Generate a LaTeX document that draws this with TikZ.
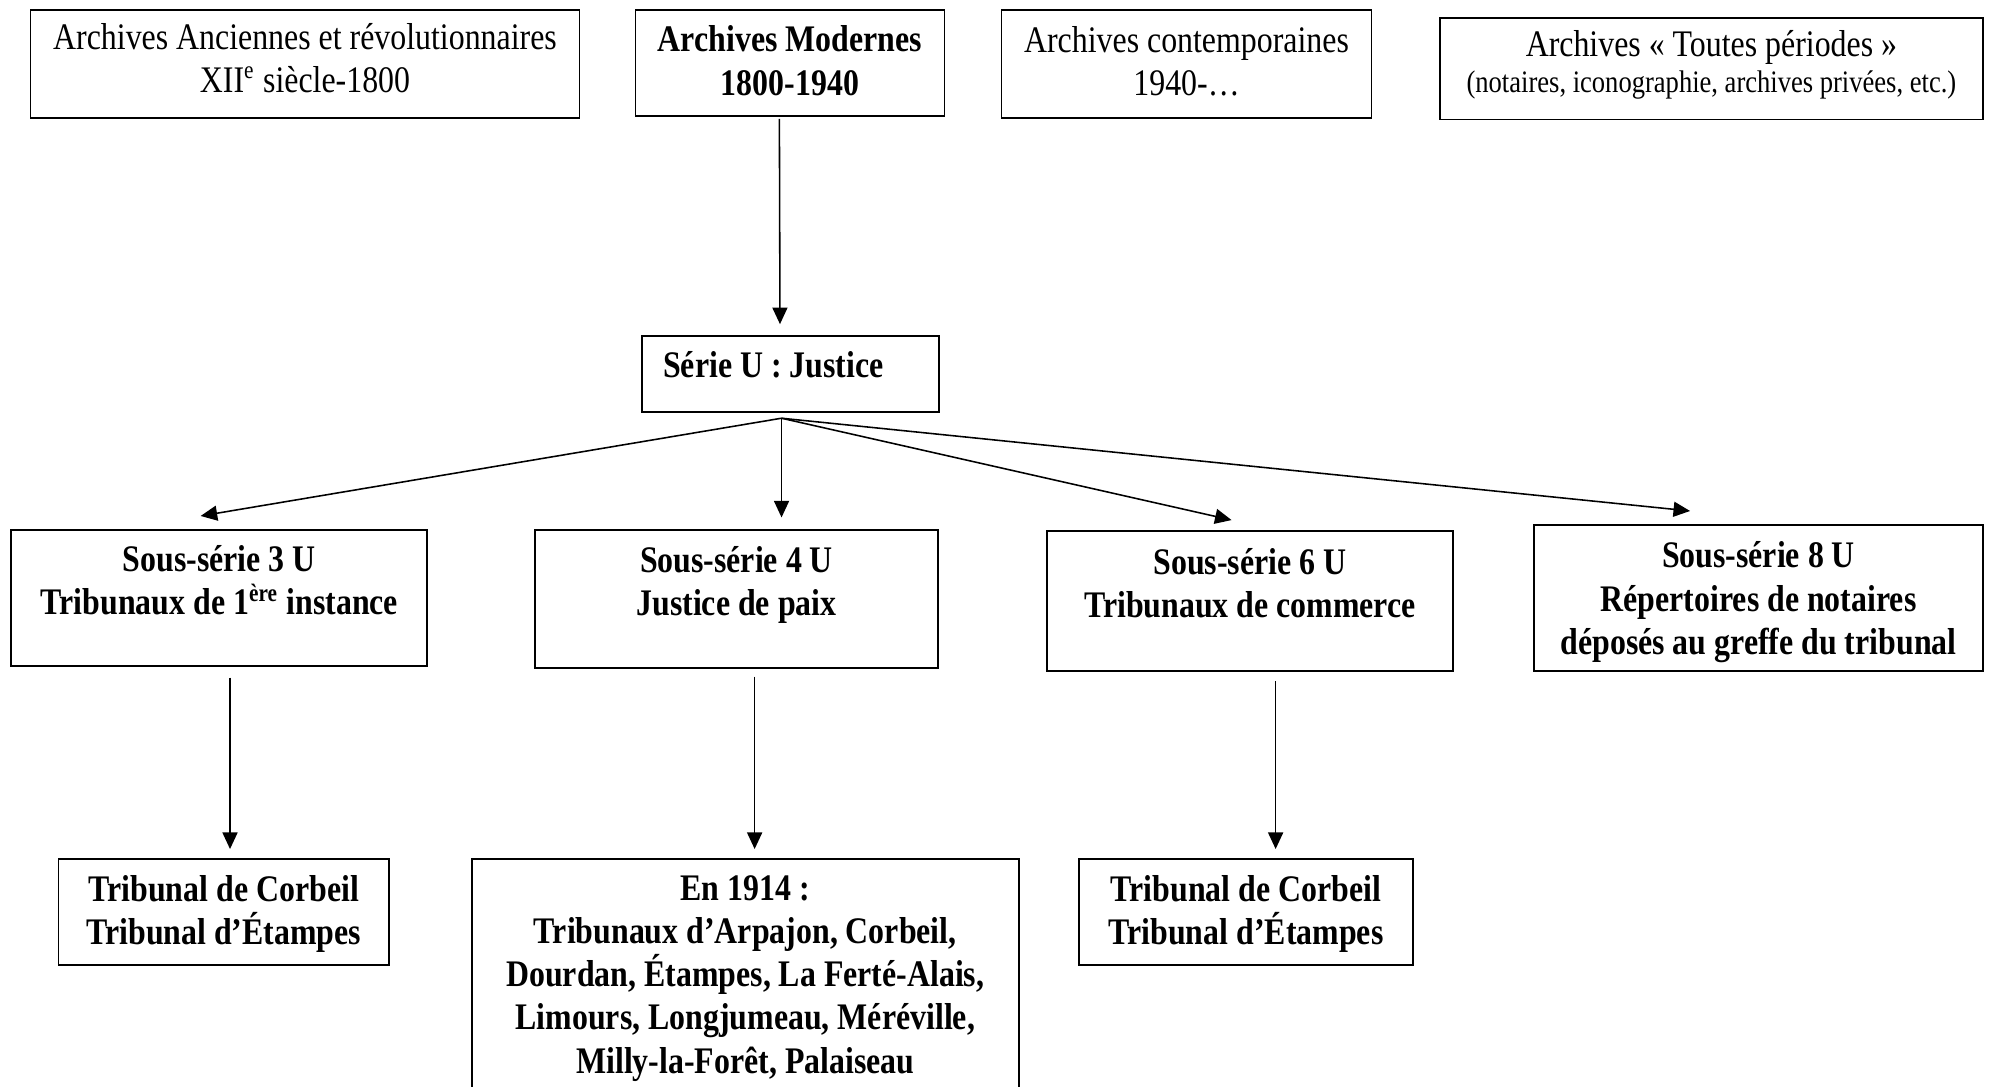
\documentclass[tikz,border=0pt]{standalone}
\usepackage{fontspec}
\setmainfont[FakeStretch=0.85]{Liberation Serif}
\usetikzlibrary{arrows.meta,positioning}

% struts to move text inside fixed-size boxes
\newcommand\toppad[1]{\rule{0pt}{#1}}
\newcommand\botpad[1]{\rule[-#1]{0pt}{#1}}

\begin{document}
\begin{tikzpicture}[x=0.32pt,y=-0.32pt]
	\tikzset{
		box/.style={draw,line width=0.6pt,align=center,inner sep=2pt,
			font=\fontsize{12}{13.8}\selectfont},
		bbox/.style={box,font=\fontsize{12}{13.8}\selectfont\bfseries},
		arr/.style={-{Triangle[length=5.3pt,width=4.8pt]},line width=0.5pt}
	}
	\useasboundingbox (0,0) rectangle (1993,1086);

	%% Periods
	\node[box,minimum width=175.7pt,minimum height=34.6pt] (anc) at (305,64) {Archives Anciennes et révolutionnaires\\XII\textsuperscript{e} siècle-1800\botpad{4pt}};
	\node[bbox,minimum width=98.9pt,minimum height=33.8pt] (mod) at (790,63) {Archives Modernes\\1800-1940\botpad{1.6pt}};
	\node[box,minimum width=118.4pt,minimum height=34.6pt] (cont) at (1186.5,64) {Archives contemporaines\\1940-…\botpad{2pt}};
	\node[box,minimum width=173.8pt,minimum height=32.5pt] (tout) at (1711.4,68.7) {Archives « Toutes périodes »\\[-2.4pt]{\fontsize{10}{11.5}\selectfont (notaires, iconographie, archives privées, etc.)}\botpad{4.6pt}};

	%% Serie U
	\node[bbox,align=flush left,text width=81.5pt,inner xsep=6.7pt,minimum height=24.5pt,text height=9pt,text depth=7pt] (ju) at (790.6,374) {Série U : Justice};

	%% Sous-series
	\node[bbox,minimum width=133.1pt,minimum height=43.5pt] (s3) at (219.4,598) {Sous-série 3 U\\Tribunaux de 1\textsuperscript{ère} instance\botpad{11.4pt}};
	\node[bbox,minimum width=129pt,minimum height=44.3pt] (s4) at (736.5,599) {Sous-série 4 U\\Justice de paix\botpad{11.4pt}};
	\node[bbox,minimum width=130pt,minimum height=44.8pt] (s6) at (1250,601) {Sous-série 6 U\\Tribunaux de commerce\botpad{11.4pt}};
	\node[bbox,minimum width=143.7pt,minimum height=46.7pt] (s8) at (1758.5,598) {\toppad{11pt}Sous-série 8 U\\Répertoires de notaires\\déposés au greffe du tribunal};

	%% Tribunaux
	\node[bbox,minimum width=105.8pt,minimum height=33.9pt] (t3) at (223.8,912) {\toppad{9.5pt}Tribunal de Corbeil\\Tribunal d’Étampes};
	\node[bbox,minimum width=175.2pt,minimum height=73.9pt] (t4) at (745.3,974.5) {\toppad{10.5pt}En 1914 :\\Tribunaux d’Arpajon, Corbeil,\\Dourdan, Étampes, La Ferté-Alais,\\Limours, Longjumeau, Méréville,\\Milly-la-Forêt, Palaiseau};
	\node[bbox,minimum width=106.9pt,minimum height=33.9pt] (t6) at (1246,912) {\toppad{9.5pt}Tribunal de Corbeil\\Tribunal d’Étampes};

	\coordinate (fan) at ([xshift=-2.9pt,yshift=-1.6pt]ju.south);
	\coordinate (d3) at ([xshift=3.4pt,yshift=-3.4pt]s3.south);
	\coordinate (d4) at ([xshift=5.8pt,yshift=-2.4pt]s4.south);
	\coordinate (d6) at ([xshift=8.2pt,yshift=-2.9pt]s6.south);

	\draw[arr] ([xshift=-3.4pt,yshift=-0.7pt]mod.south) -- ([xshift=-3.4pt,yshift=3.4pt]ju.north);
	\path[arr]
		(fan) edge ([xshift=-6pt,yshift=4.2pt]s3.north)
		(fan) edge[shorten >=3.65pt] (fan |- s4.north)
		(fan) edge ([xshift=-5.9pt,yshift=3.2pt]s6.north)
		(fan) edge ([xshift=-21.9pt,yshift=4.2pt]s8.north)
		(d3) edge[shorten >=2.9pt] (d3 |- t3.north)
		(d4) edge[shorten >=2.9pt] (d4 |- t4.north)
		(d6) edge[shorten >=2.9pt] (d6 |- t6.north);
\end{tikzpicture}
\end{document}
